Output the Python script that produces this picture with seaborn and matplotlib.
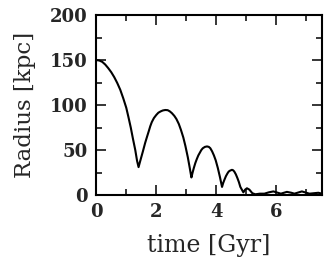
import numpy as np
import pandas as pd
import matplotlib
matplotlib.use("Agg")
import matplotlib.pyplot as plt
from matplotlib.ticker import MultipleLocator
import seaborn as sns

# orbit radius
time_gyr = [0.0, 0.1, 0.2, 0.3, 0.4, 0.5, 0.6, 0.7, 0.8, 0.9, 1.0, 1.07, 1.15,
            1.22, 1.3, 1.36, 1.41,
            1.45, 1.5, 1.55, 1.63, 1.68, 1.75, 1.8, 1.85, 1.92, 2.0, 2.07, 2.15,
            2.22, 2.3, 2.38, 2.45, 2.52, 2.6, 2.67, 2.75, 2.82, 2.9, 2.97, 3.05,
            3.11, 3.17,
            3.21, 3.25, 3.3, 3.35, 3.4, 3.45, 3.5, 3.55, 3.62, 3.69, 3.75, 3.8,
            3.86, 3.92, 3.98, 4.05, 4.12, 4.19,
            4.23, 4.27, 4.32, 4.37, 4.41, 4.45, 4.52, 4.56, 4.6, 4.65, 4.7, 4.75,
            4.8, 4.85, 4.9,
            4.96, 5.02, 5.1, 5.2, 5.3, 5.45, 5.6, 5.75, 5.9, 6.05, 6.15,
            6.25, 6.35, 6.5, 6.6, 6.7, 6.85, 7.0, 7.1, 7.25, 7.4, 7.52]
radius_kpc = [150, 149.5, 148, 145, 141, 136.5, 131, 124.5, 117, 107.5, 97, 87, 75,
              63, 50, 38, 31,
              36, 42, 48, 58, 63.5, 71, 76.5, 81, 85.5, 89, 91.5, 93,
              94, 94.5, 94.3, 93, 91, 88, 84.5, 79, 72.5, 64, 54.5, 42,
              31, 19.5,
              25, 30, 35.5, 40, 44, 47, 50, 52, 53.5, 54, 53.5, 52,
              48.5, 44, 38.5, 30, 20, 9,
              13.5, 17, 21, 24, 26, 27, 28, 27.5, 26, 23, 19, 14.5,
              9, 6, 3,
              6, 7.5, 6, 2, 0.8, 1.5, 1.5, 3, 4, 2.5, 1.5,
              2.5, 3.5, 2.5, 1.5, 2.5, 4, 2.5, 1.5, 2, 2.5, 1.5]

df = pd.DataFrame({"time": time_gyr, "radius": radius_kpc})

sns.set_style("ticks")
plt.rcParams["font.family"] = ["DejaVu Serif"]

fig = plt.figure(figsize=(3.33, 2.79), dpi=100)
ax = fig.add_axes([0.289, 0.301, 0.678, 0.645])

sns.lineplot(data=df, x="time", y="radius", ax=ax, color="black", linewidth=1.5)

ax.set_xlim(0, 7.52)
ax.set_ylim(0, 200)
ax.xaxis.set_major_locator(MultipleLocator(2))
ax.xaxis.set_minor_locator(MultipleLocator(1))
ax.yaxis.set_major_locator(MultipleLocator(50))
ax.yaxis.set_minor_locator(MultipleLocator(25))
ax.tick_params(which="both", direction="in", top=True, right=True, width=1.3,
               labelsize=13, pad=6)
ax.tick_params(which="major", length=7)
ax.tick_params(which="minor", length=4)
for lab in ax.get_xticklabels() + ax.get_yticklabels():
    lab.set_fontweight("bold")
for spine in ax.spines.values():
    spine.set_linewidth(1.5)
    spine.set_color("black")

ax.set_xlabel("time [Gyr]", fontsize=17, labelpad=9)
ax.set_ylabel("Radius [kpc]", fontsize=16.5, labelpad=10)

fig.savefig("out.png", dpi=100, facecolor="white")
